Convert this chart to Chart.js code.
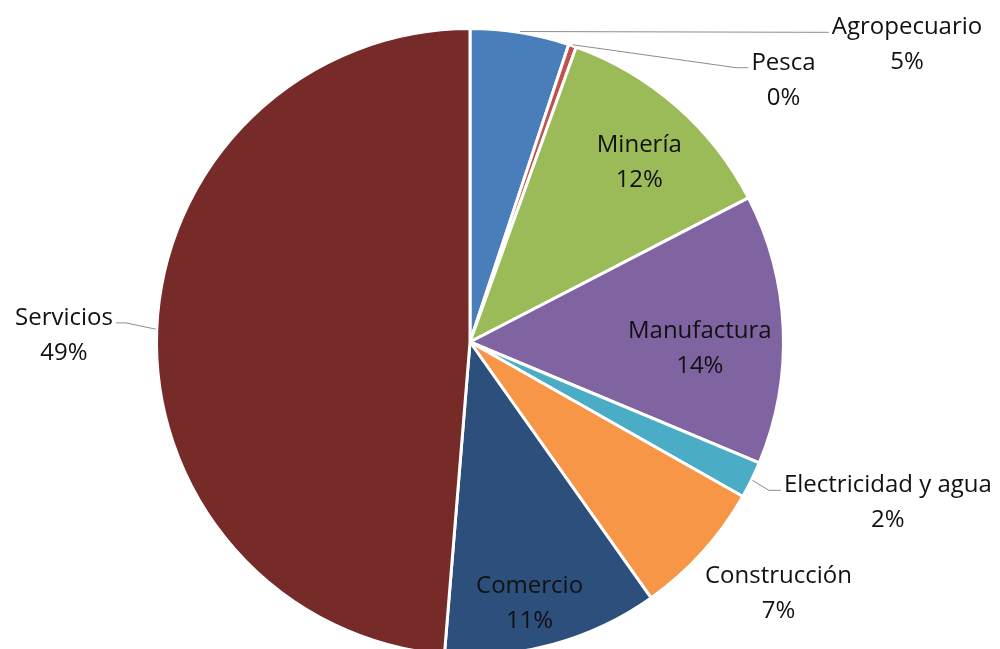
<!DOCTYPE html>
<html lang="es">
<head>
<meta charset="utf-8">
<title>Composición por sector</title>
<script src="https://cdn.jsdelivr.net/npm/chart.js@4.4.1/dist/chart.umd.min.js"></script>
<style>
    html, body {
        margin: 0;
        padding: 0;
        background: #ffffff;
        overflow: hidden;
        width: 1000px;
        height: 649px;
    }
    #wrap {
        position: absolute;
        left: 0;
        top: 0;
        width: 1000px;
        height: 684px;
    }
</style>
</head>
<body>
<div id="wrap"><canvas id="sector-chart"></canvas></div>
<script>
// Sectores, en orden horario desde las 12
const sectores = ['Agropecuario', 'Pesca', 'Minería', 'Manufactura', 'Electricidad y agua', 'Construcción', 'Comercio', 'Servicios'];
const participacion = [5.1, 0.4, 11.9, 13.9, 1.9, 7.0, 11.1, 48.7];
const colores = ['#4a7ebb', '#c0504d', '#9bbb59', '#8064a2', '#4bacc6', '#f79646', '#2c4f7c', '#772b29'];

// Ubicación de cada etiqueta respecto al centro, en fracción del radio
const etiquetas = [
    { dx: 1.394, dy: -0.948, guia: true },
    { dx: 1.000, dy: -0.835, guia: true },
    { dx: 0.540, dy: -0.573, guia: false },
    { dx: 0.733, dy: 0.021, guia: false },
    { dx: 1.333, dy: 0.513, guia: true },
    { dx: 0.984, dy: 0.803, guia: false },
    { dx: 0.190, dy: 0.835, guia: false },
    { dx: -1.295, dy: -0.021, guia: true }
];

const FUENTE = '24px "Open Sans", Lato, sans-serif';
const INTERLINEA = 35;

const etiquetasPlugin = {
    id: 'etiquetasSector',
    afterDatasetsDraw(chart) {
        const ctx = chart.ctx;
        const meta = chart.getDatasetMeta(0);
        const total = participacion.reduce((a, b) => a + b, 0);

        ctx.save();
        ctx.font = FUENTE;
        ctx.textAlign = 'center';
        ctx.textBaseline = 'middle';

        meta.data.forEach((arc, i) => {
            const r = arc.outerRadius;
            const cfg = etiquetas[i];
            const tx = arc.x + cfg.dx * r;
            const ty = arc.y + cfg.dy * r;
            const y1 = ty - INTERLINEA / 2;
            const y2 = ty + INTERLINEA / 2;
            const nombre = sectores[i];
            const pct = Math.round(participacion[i] / total * 100) + '%';

            if (cfg.guia) {
                const mid = (arc.startAngle + arc.endAngle) / 2;
                const ax = arc.x + Math.cos(mid) * (r + 1);
                const ay = arc.y + Math.sin(mid) * (r + 1);
                const w = ctx.measureText(nombre).width;
                const izq = tx < arc.x;
                const borde = izq ? tx + w / 2 + 3 : tx - w / 2 - 3;
                const codo = izq ? borde + 10 : borde - 12;
                const ly = y1 + 5;

                ctx.strokeStyle = '#8c8c8c';
                ctx.lineWidth = 1;
                ctx.beginPath();
                ctx.moveTo(ax, ay);
                ctx.lineTo(codo, ly);
                ctx.lineTo(borde, ly);
                ctx.stroke();
            }

            ctx.fillStyle = '#111111';
            ctx.fillText(nombre, tx, y1);
            ctx.fillText(pct, tx, y2);
        });

        ctx.restore();
    }
};

new Chart(document.getElementById('sector-chart'), {
    type: 'pie',
    data: {
        labels: sectores,
        datasets: [{
            data: participacion,
            backgroundColor: colores,
            borderColor: '#ffffff',
            borderWidth: 3
        }]
    },
    options: {
        responsive: true,
        maintainAspectRatio: false,
        animation: false,
        layout: {
            padding: { left: 0, right: 60, top: 27, bottom: 27 }
        },
        plugins: {
            legend: { display: false },
            tooltip: { enabled: false }
        }
    },
    plugins: [etiquetasPlugin]
});
</script>
</body>
</html>
